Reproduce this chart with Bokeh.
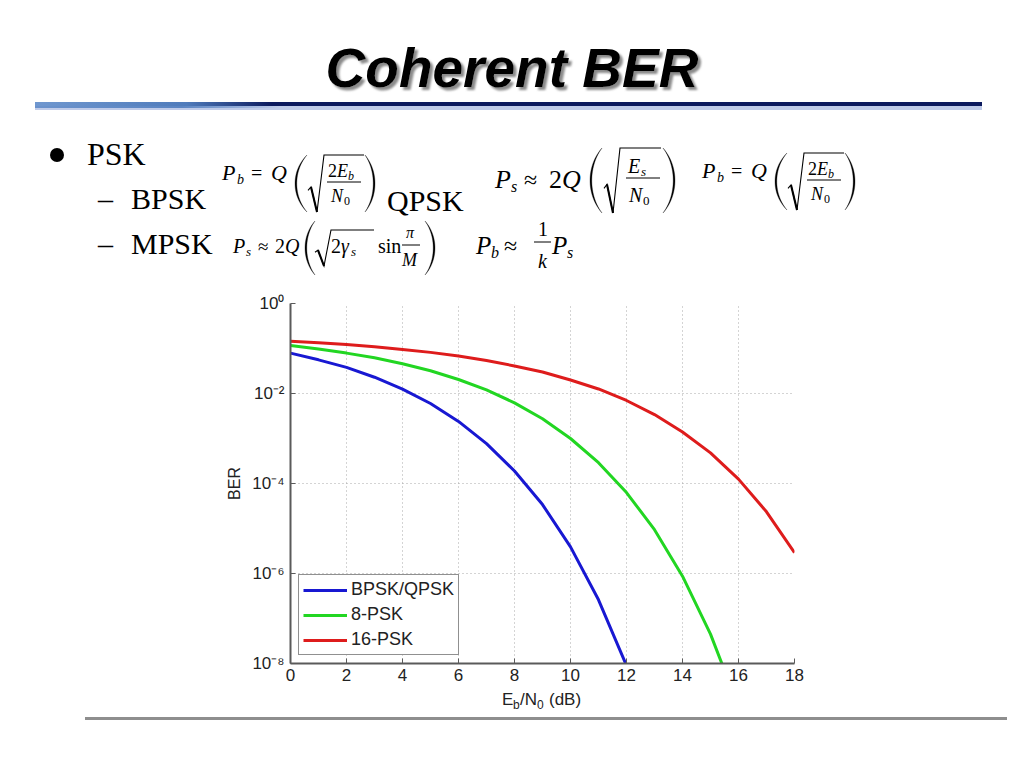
from bokeh.plotting import figure
from bokeh.layouts import column
from bokeh.models import Range1d, FixedTicker, CustomJSTickFormatter, Div
from bokeh.embed import file_html
from bokeh.resources import INLINE
import numpy as np

# ---------------- data ----------------
ebn0_bpsk = [0, 1, 2, 3, 4, 5, 6, 7, 8, 9, 10, 11, 12]
ber_bpsk = [7.9e-2, 5.6e-2, 3.8e-2, 2.3e-2, 1.25e-2, 6.0e-3, 2.4e-3, 7.7e-4,
            1.9e-4, 3.4e-5, 3.9e-6, 2.6e-7, 9.0e-9]

ebn0_8psk = [0, 1, 2, 3, 4, 5, 6, 7, 8, 9, 10, 11, 12, 13, 14, 15, 16]
ber_8psk = [1.16e-1, 9.8e-2, 7.9e-2, 6.2e-2, 4.6e-2, 3.2e-2, 2.05e-2, 1.2e-2,
            6.2e-3, 2.75e-3, 1.0e-3, 2.9e-4, 6.3e-5, 9.4e-6, 8.7e-7, 4.5e-8, 1.1e-9]

ebn0_16psk = [0, 1, 2, 3, 4, 5, 6, 7, 8, 9, 10, 11, 12, 13, 14, 15, 16, 17, 18]
ber_16psk = [1.45e-1, 1.34e-1, 1.22e-1, 1.09e-1, 9.5e-2, 8.2e-2, 6.8e-2, 5.4e-2,
             4.1e-2, 3.0e-2, 2.0e-2, 1.26e-2, 7.0e-3, 3.4e-3, 1.4e-3, 4.8e-4,
             1.25e-4, 2.35e-5, 2.9e-6]

series_labels = ["BPSK/QPSK", "8-PSK", "16-PSK"]
x_ticks = [0, 2, 4, 6, 8, 10, 12, 14, 16, 18]
y_ticks = [1e-8, 1e-6, 1e-4, 1e-2, 1]

title_text = "Coherent BER"
bullet_text = "PSK"
sub_items = ["BPSK", "MPSK"]
qpsk_text = "QPSK"

SERIF = "Liberation Serif"
SANS = "Liberation Sans"

HEADER_H = 288          # slide rows 0..288 are the header
CHART_TOP = 303         # frame top (slide px)
FRAME_H = 360
CHART_BOTTOM_BORDER = 25
FOOTER_Y0 = CHART_TOP + FRAME_H + CHART_BOTTOM_BORDER  # 688
W, H = 1008, 752


# ---------------- SVG helpers for slide decorations ----------------
def t(x, y, s, size, font=SERIF, style="normal", weight="normal", color="black", anchor="start", extra=""):
    css = (f"font-family:'{font}';font-size:{size}px;font-style:{style};"
           f"font-weight:{weight};fill:{color};text-anchor:{anchor}")
    return f'<text x="{x}" y="{y}" style="{css}" {extra}>{s}</text>'


def paren_path(xl, xr, yt, yb, left=True, thick=1.8):
    h = yb - yt
    tt = np.linspace(0, 1, 28)
    if left:
        xe = xr
        c_out = (8 * xl - 2 * xr) / 6.0
        c_in = (8 * (xl + thick) - 2 * xr) / 6.0
    else:
        xe = xl
        c_out = (8 * xr - 2 * xl) / 6.0
        c_in = (8 * (xr - thick) - 2 * xl) / 6.0

    def bez(c):
        x = (1 - tt) ** 3 * xe + 3 * (1 - tt) ** 2 * tt * c + 3 * (1 - tt) * tt ** 2 * c + tt ** 3 * xe
        y = ((1 - tt) ** 3 * yt + 3 * (1 - tt) ** 2 * tt * (yt + 0.28 * h)
             + 3 * (1 - tt) * tt ** 2 * (yb - 0.28 * h) + tt ** 3 * yb)
        return x, y

    xo, yo = bez(c_out)
    xi, yi = bez(c_in)
    xs = np.concatenate([xo, xi[::-1]])
    ys = np.concatenate([yo, yi[::-1]])
    d = "M" + " L".join(f"{a:.2f},{b:.2f}" for a, b in zip(xs, ys)) + " Z"
    return f'<path d="{d}" fill="black" stroke="black" stroke-width="0.3"/>'


def radical(x0, yt, yb, xe):
    h = yb - yt
    pts = [(x0, yt + 0.62 * h), (x0 + 3, yt + 0.56 * h), (x0 + 9, yb), (x0 + 16, yt), (xe, yt)]
    d = "M" + " L".join(f"{a:.2f},{b:.2f}" for a, b in pts)
    s = f'<path d="{d}" fill="none" stroke="black" stroke-width="1.1" stroke-linejoin="miter"/>'
    s += (f'<line x1="{x0 + 3}" y1="{yt + 0.56 * h:.2f}" x2="{x0 + 9}" y2="{yb}" '
          f'stroke="black" stroke-width="2.1"/>')
    return s


def bar(x0, x1, y):
    return f'<line x1="{x0}" y1="{y}" x2="{x1}" y2="{y}" stroke="black" stroke-width="1"/>'


def formula_pb(dx, dy):
    s = ""
    s += t(222 + dx, 180 + dy, "P", 22, style="italic")
    s += t(237 + dx, 184 + dy, "b", 14, style="italic")
    s += t(251 + dx, 180 + dy, "=", 20)
    s += t(271 + dx, 180 + dy, "Q", 22, style="italic")
    s += paren_path(295 + dx, 307 + dx, 155 + dy, 212 + dy, True)
    s += radical(308 + dx, 155 + dy, 212 + dy, 364 + dx)
    s += t(328 + dx, 177 + dy, "2", 18)
    s += t(337 + dx, 177 + dy, "E", 18, style="italic")
    s += t(348 + dx, 180 + dy, "b", 12, style="italic")
    s += bar(327 + dx, 361 + dx, 182 + dy)
    s += t(331 + dx, 202 + dy, "N", 18, style="italic")
    s += t(344 + dx, 205 + dy, "0", 12)
    s += paren_path(365 + dx, 375 + dx, 155 + dy, 212 + dy, False)
    return s


hdr = [f'<svg xmlns="http://www.w3.org/2000/svg" width="{W}" height="{HEADER_H}" '
       f'viewBox="0 0 {W} {HEADER_H}" style="display:block">',
       '<defs>'
       '<filter id="ds" x="-5%" y="-20%" width="112%" height="150%">'
       '<feDropShadow dx="3" dy="3" stdDeviation="1.1" flood-color="#7e7e7e" flood-opacity="0.9"/></filter>'
       '<linearGradient id="ug" x1="35" x2="982" y1="0" y2="0" gradientUnits="userSpaceOnUse">'
       '<stop offset="0" stop-color="#6f97cf"/><stop offset="0.16" stop-color="#4f7bbb"/>'
       '<stop offset="0.25" stop-color="#0c1a5e"/><stop offset="1" stop-color="#0c1a5e"/></linearGradient>'
       '<linearGradient id="ul" x1="35" x2="280" y1="0" y2="0" gradientUnits="userSpaceOnUse">'
       '<stop offset="0" stop-color="#6a92cc" stop-opacity="1"/><stop offset="0.6" stop-color="#5a84c2" stop-opacity="1"/>'
       '<stop offset="1" stop-color="#5a84c2" stop-opacity="0"/></linearGradient>'
       '</defs>']
# title with soft drop shadow (filter, single text)
hdr.append(t(512, 87, title_text, 55, SANS, "italic", "bold", "black", "middle", 'filter="url(#ds)"'))
# title underline
hdr.append('<rect x="35" y="102" width="947" height="8" fill="#bfcbe9"/>')
hdr.append('<rect x="35" y="102" width="947" height="4" fill="url(#ug)"/>')
hdr.append('<rect x="35" y="106" width="245" height="2" fill="url(#ul)"/>')
# bullets
hdr.append('<circle cx="57" cy="155" r="7" fill="black"/>')
hdr.append(t(87, 165, bullet_text, 32))
hdr.append(t(98, 209, "\u2013", 30))
hdr.append(t(131, 209, sub_items[0], 30))
hdr.append(t(387, 211, qpsk_text, 30))
hdr.append(t(98, 254, "\u2013", 30))
hdr.append(t(131, 254, sub_items[1], 30))
# formulas
hdr.append(formula_pb(0, 0))
hdr.append(formula_pb(480, -2))
# Ps ~ 2Q(sqrt(Es/N0))
hdr += [t(495, 188, "P", 26, style="italic"), t(511, 192, "s", 16, style="italic"),
        t(524, 188, "\u2248", 24), t(549, 188, "2", 26), t(562, 188, "Q", 26, style="italic"),
        paren_path(590, 602, 148, 213, True), radical(604, 148, 213, 661),
        t(628, 173, "E", 20, style="italic"), t(641, 176, "s", 13, style="italic"),
        bar(626, 660, 178), t(629, 202, "N", 20, style="italic"), t(643, 205, "0", 13),
        paren_path(663, 675, 148, 213, False)]
# MPSK: Ps ~ 2Q(sqrt(2 gamma_s) sin pi/M)
hdr += [t(233, 253, "P", 20, style="italic"), t(246, 256, "s", 13, style="italic"),
        t(258, 253, "\u2248", 19), t(275, 253, "2", 20), t(285, 253, "Q", 20, style="italic"),
        paren_path(305, 315, 221, 275, True), radical(315, 230, 266, 374),
        t(331, 253, "2", 20), t(341, 253, "\u03b3", 20, style="italic"),
        t(351, 256, "s", 13, style="italic"), t(378, 253, "sin", 20),
        t(406, 238, "\u03c0", 16, style="italic"), bar(402, 420, 245),
        t(402, 266, "M", 18, style="italic"), paren_path(425, 435, 221, 275, False)]
# Pb ~ (1/k) Ps
hdr += [t(476, 254, "P", 25, style="italic"), t(491, 258, "b", 16, style="italic"),
        t(504, 254, "\u2248", 24), t(538, 236, "1", 20), bar(534, 551, 242),
        t(538, 268, "k", 20, style="italic"), t(552, 254, "P", 25, style="italic"),
        t(567, 258, "s", 16, style="italic")]
hdr.append('</svg>')

FOOT_H = H - FOOTER_Y0
ftr = [f'<svg xmlns="http://www.w3.org/2000/svg" width="{W}" height="{FOOT_H}" '
       f'viewBox="0 {FOOTER_Y0} {W} {FOOT_H}" style="display:block">']
ftr += [t(502, 705, "E", 17, SANS, color="#222222"), t(513, 709, "b", 12, SANS, color="#222222"),
        t(520, 705, "/N", 17, SANS, color="#222222"), t(537, 709, "0", 12, SANS, color="#222222"),
        t(549, 705, "(dB)", 17, SANS, color="#222222")]
ftr.append('<rect x="85" y="717" width="922" height="3" fill="#8e8e8e"/>')
ftr.append('</svg>')

header = Div(text="".join(hdr), width=W, height=HEADER_H, margin=0)
footer = Div(text="".join(ftr), width=W, height=FOOT_H, margin=0)

# ---------------- chart ----------------
p = figure(frame_width=504, frame_height=FRAME_H, x_range=Range1d(0, 18),
           y_range=Range1d(1e-8, 1), y_axis_type="log", output_backend="svg",
           toolbar_location=None, min_border_left=290, min_border_right=214,
           min_border_top=CHART_TOP - HEADER_H, min_border_bottom=CHART_BOTTOM_BORDER, margin=0)
p.outline_line_color = None
p.background_fill_color = "white"
p.border_fill_color = "white"

p.xaxis.ticker = FixedTicker(ticks=x_ticks)
p.yaxis.ticker = FixedTicker(ticks=y_ticks)
p.xgrid.ticker = FixedTicker(ticks=x_ticks)
p.ygrid.ticker = FixedTicker(ticks=y_ticks)
p.yaxis.formatter = CustomJSTickFormatter(code="""
const sup = {"0":"\u2070","1":"\u00b9","2":"\u00b2","3":"\u00b3","4":"\u2074",
             "5":"\u2075","6":"\u2076","7":"\u2077","8":"\u2078","9":"\u2079","-":"\u207b"};
const e = Math.round(Math.log10(tick));
return "10" + String(e).split("").map(c => sup[c]).join("");
""")

for ax in (p.xaxis, p.yaxis):
    ax.axis_line_color = "#5a5a5a"
    ax.axis_line_width = 2
    ax.major_tick_in = 5
    ax.major_tick_out = 0
    ax.major_tick_line_color = "#5a5a5a"
    ax.minor_tick_line_color = None
    ax.major_label_text_font = SANS
    ax.major_label_text_font_size = "17px"
    ax.major_label_text_color = "#222222"
    ax.major_label_standoff = 6
p.xaxis.major_label_standoff = 5

p.yaxis.axis_label = "BER"
p.yaxis.axis_label_text_font = SANS
p.yaxis.axis_label_text_font_size = "16px"
p.yaxis.axis_label_text_font_style = "normal"
p.yaxis.axis_label_text_color = "#222222"
p.yaxis.axis_label_standoff = 6

p.grid.grid_line_color = "#a8a8a8"
p.grid.grid_line_dash = "1 3"
p.grid.grid_line_width = 1

p.line(ebn0_bpsk, ber_bpsk, line_color="#1818d2", line_width=3, legend_label=series_labels[0])
p.line(ebn0_8psk, ber_8psk, line_color="#22d622", line_width=3, legend_label=series_labels[1])
p.line(ebn0_16psk, ber_16psk, line_color="#de1c1c", line_width=3, legend_label=series_labels[2])

lg = p.legend[0]
lg.location = "bottom_left"
lg.margin = 8
lg.border_line_color = "#222222"
lg.border_line_width = 1.5
lg.background_fill_color = "white"
lg.background_fill_alpha = 1
lg.padding = 4
lg.spacing = 4
lg.label_height = 20
lg.glyph_height = 20
lg.glyph_width = 44
lg.label_standoff = 4
lg.label_text_font = SANS
lg.label_text_font_size = "18px"
lg.label_text_color = "#222222"

layout = column(header, p, footer, spacing=0, margin=0)
open("out.html", "w").write(file_html(layout, INLINE))
